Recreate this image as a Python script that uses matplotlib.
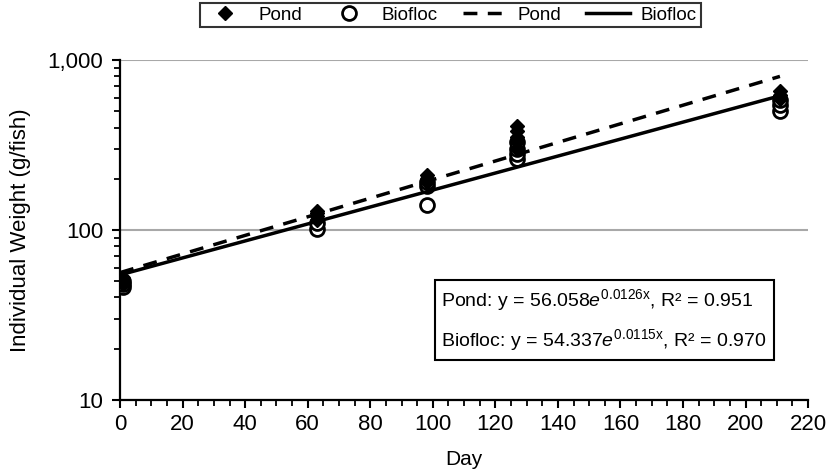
import numpy as np
import matplotlib
matplotlib.use("Agg")
import matplotlib.pyplot as plt
from matplotlib.ticker import MultipleLocator, FuncFormatter, LogLocator, NullFormatter

pond_day = [1, 1, 1, 63, 63, 63, 63, 98, 98, 98, 127, 127, 127, 127, 127, 211, 211, 211]
pond_wt = [48, 50, 52, 115, 120, 125, 130, 190, 200, 210, 300, 330, 350, 380, 410, 590, 620, 660]
bio_day = [1, 1, 1, 63, 63, 98, 98, 98, 127, 127, 127, 127, 211, 211, 211]
bio_wt = [46, 48, 50, 101, 110, 140, 180, 190, 260, 280, 300, 330, 500, 540, 580]

# exponential trendlines as printed on the chart: y = a * exp(b * x)
pond_a, pond_b, pond_r2 = 56.058, 0.0126, 0.951
bio_a, bio_b, bio_r2 = 54.337, 0.0115, 0.970
trend_start, trend_end = 0, 211

plt.rcParams['font.family'] = ['Liberation Sans', 'DejaVu Sans']
plt.rcParams['mathtext.fontset'] = 'custom'
plt.rcParams['mathtext.rm'] = 'Liberation Sans'
plt.rcParams['mathtext.it'] = 'Liberation Sans:italic'

fig = plt.figure(figsize=(8.4, 4.72), dpi=100)
ax = fig.add_axes([0.143, 0.153, 0.819, 0.72])

tx = np.linspace(trend_start, trend_end, 100)
ax.plot(pond_day, pond_wt, ls='none', marker='D', ms=7, color='black', label='Pond', zorder=4)
ax.plot(bio_day, bio_wt, ls='none', marker='o', ms=10, mfc='white', mec='black', mew=2,
        label='Biofloc', zorder=3)
ax.plot(tx, pond_a * np.exp(pond_b * tx), color='black', lw=2.5, ls=(0, (4, 3)), label='Pond', zorder=5)
ax.plot(tx, bio_a * np.exp(bio_b * tx), color='black', lw=2.5, ls='-', label='Biofloc', zorder=5)

ax.set_yscale('log')
ax.set_ylim(10, 1000)
ax.set_xlim(0, 220)
ax.xaxis.set_major_locator(MultipleLocator(20))
ax.xaxis.set_minor_locator(MultipleLocator(5))
ax.yaxis.set_major_locator(LogLocator(base=10))
ax.yaxis.set_minor_locator(LogLocator(base=10, subs=np.arange(2, 10)))
ax.yaxis.set_minor_formatter(NullFormatter())
ax.yaxis.set_major_formatter(FuncFormatter(lambda v, p: f"{int(round(v)):,}"))

ax.grid(axis='y', which='major', color='#a8a8a8', lw=1.5)
ax.set_axisbelow(True)
for s in ['top', 'right']:
    ax.spines[s].set_visible(False)
for s in ['left', 'bottom']:
    ax.spines[s].set_linewidth(1.6)
ax.tick_params(which='major', length=6, width=1.5, labelsize=16, direction='out')
ax.tick_params(which='minor', length=4, width=1.3, direction='out')
ax.tick_params(axis='x', pad=4)
ax.tick_params(axis='y', pad=6)

ax.set_xlabel('Day', fontsize=15, labelpad=11)
ax.set_ylabel('Individual Weight (g/fish)', fontsize=16, labelpad=12)

leg = ax.legend(loc='upper center', bbox_to_anchor=(0.48, 1.168), ncol=4, fontsize=13.5,
                frameon=True, fancybox=False, edgecolor='black', handlelength=2.3,
                columnspacing=1.35, borderpad=0.2, handletextpad=0.6, borderaxespad=0)
leg.get_frame().set_linewidth(1.5)

eq = (f"Pond: y = {pond_a:.3f}$\\mathit{{e}}^{{\\mathrm{{{pond_b}x}}}}$, R² = {pond_r2:.3f}\n"
      f"Biofloc: y = {bio_a:.3f}$\\mathit{{e}}^{{\\mathrm{{{bio_b}x}}}}$, R² = {bio_r2:.3f}")
ax.text(0.94, 0.235, eq, transform=ax.transAxes, fontsize=14, ha='right', va='center',
        multialignment='left', linespacing=1.75,
        bbox=dict(boxstyle='square,pad=0.35', fc='white', ec='black', lw=1.5))

fig.savefig('out.png', dpi=100)
